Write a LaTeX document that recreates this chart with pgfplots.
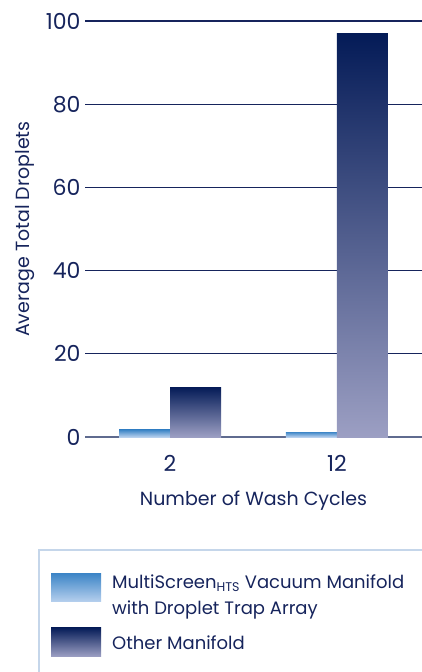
\documentclass[border=0pt]{standalone}
\usepackage{fontspec}
\setmainfont{Poppins}
\usepackage{pgfplots}
\pgfplotsset{compat=1.18}
\definecolor{navy}{RGB}{22,36,92}
\definecolor{darktop}{RGB}{4,27,87}
\definecolor{darkbot}{RGB}{156,159,195}
\definecolor{bluetop}{RGB}{62,134,199}
\definecolor{bluebot}{RGB}{183,208,238}
\definecolor{zeroline}{RGB}{95,107,143}
\definecolor{legborder}{RGB}{197,214,234}
\begin{document}
\begin{tikzpicture}
\path[use as bounding box] (0,0) rectangle (422pt,672pt);
\begin{axis}[
  at={(85pt,235pt)}, anchor=south west,
  scale only axis, width=337pt, height=416pt,
  ybar=0pt, bar width=51pt,
  xmin=-0.509, xmax=1.509, ymin=0, ymax=100,
  xtick={0,1}, xticklabels={2,12},
  ytick={0,20,40,60,80,100},
  major tick length=0pt,
  axis line style={draw=none},
  ymajorgrids, grid style={navy, line width=1.3pt},
  extra y ticks={0}, extra y tick style={grid style={zeroline, line width=2pt}, yticklabels={}},
  font=\fontsize{19}{22}\selectfont,
  /pgf/number format/assume math mode=true,
  ticklabel style={text=navy, font=\fontsize{22}{24}\selectfont},
  xticklabel style={yshift=-15pt},
  yticklabel style={xshift=-1pt},
  xlabel={Number of Wash Cycles}, ylabel={Average Total Droplets},
  label style={text=navy},
  xlabel style={yshift=-12pt},
  ylabel style={yshift=4pt},
  legend cell align=left,
  legend style={at={(-0.1365,-0.2716)}, anchor=north west, draw=none, fill=none,
    font=\fontsize{18}{26}\selectfont, text=navy,
    cells={align=left}, inner xsep=12pt, inner ysep=23pt, row sep=9pt},
]
\addplot[draw=none, bar shift=-25.5pt, top color=bluetop, bottom color=bluebot,
  legend image code/.code={\path[top color=bluetop, bottom color=bluebot] (0pt,-6pt) rectangle (50pt,22pt); \path (59pt,0pt);}]
  coordinates {(0,1.7)};
\addlegendentry{MultiScreen\textsubscript{HTS} Vacuum Manifold\\with Droplet Trap Array}
\addplot[draw=none, bar shift=25.5pt, top color=darktop, bottom color=darkbot,
  legend image code/.code={\path[top color=darktop, bottom color=darkbot] (0pt,-13pt) rectangle (50pt,16pt); \path (59pt,0pt);}]
  coordinates {(0,12)};
\addlegendentry{Other Manifold}
\addplot[forget plot, draw=none, bar shift=-25.5pt, top color=bluetop, bottom color=bluebot]
  coordinates {(1,1.2)};
\addplot[forget plot, draw=none, bar shift=25.5pt, top color=darktop, bottom color=darkbot]
  coordinates {(1,97)};
\end{axis}
\draw[legborder, line width=1.3pt] (39pt,0pt) -- (39pt,122pt) -- (422pt,122pt);
\end{tikzpicture}
\end{document}
